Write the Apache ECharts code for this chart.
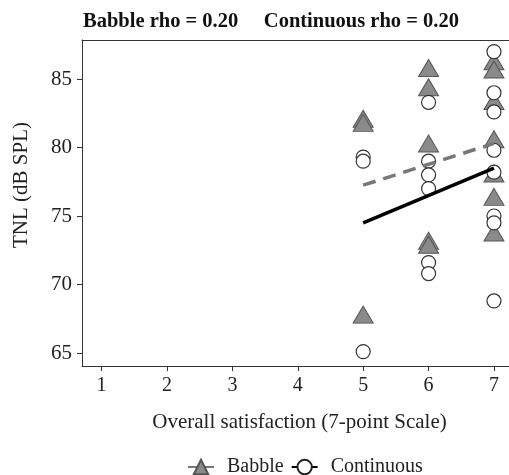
<!DOCTYPE html>
<html lang="en">

<head>
  <meta charset="UTF-8">
  <title>TNL vs satisfaction</title>
  <style>
    html, body {
      margin: 0;
      padding: 0;
      background: #fff;
    }

    #chart {
      width: 509px;
      height: 475px;
    }
  </style>
</head>

<body>
  <div id="chart"></div>
</body>
<script src="https://cdn.jsdelivr.net/npm/echarts@6/dist/echarts.min.js"></script>
<script>
  // satisfaction ratings (x) and TNL values (y)
  var babbleX = [5, 5, 5, 6, 6, 6, 6, 6, 7, 7, 7, 7, 7, 7, 7]
  var babbleY = [82.1, 81.8, 67.8, 85.8, 84.4, 80.3, 73.2, 72.9, 86.3, 85.7, 83.4, 80.6, 78.1, 76.4, 73.8]
  var contX = [5, 5, 5, 6, 6, 6, 6, 6, 6, 7, 7, 7, 7, 7, 7, 7, 7]
  var contY = [79.3, 79.0, 65.1, 83.3, 79.0, 78.0, 77.0, 71.6, 70.8, 87.0, 84.0, 82.6, 79.8, 78.2, 75.0, 74.5, 68.8]
  // fitted lines, end points at x = 5 and x = 7
  var fitX = [5, 7]
  var babbleFit = [77.25, 80.3]
  var contFit = [74.5, 78.5]
  var xTicks = [1, 2, 3, 4, 5, 6, 7]
  var yTicks = [65, 70, 75, 80, 85]
  var titleText = 'Babble rho = 0.20     Continuous rho = 0.20'

  function pairs(xs, ys) {
    var out = []
    for (var i = 0; i < xs.length; i++) {
      out.push([xs[i], ys[i]])
    }
    return out
  }

  var font = 'Liberation Serif'
  var axisColor = '#333'

  var myChart = echarts.init(document.getElementById('chart'))
  var option = {
    animation: false,
    title: {
      text: titleText,
      left: 78,
      top: 6,
      textStyle: { fontFamily: font, fontSize: 20.5, fontWeight: 'bold', color: '#111' },
    },
    // panel runs past the right edge of the picture, so no right border
    grid: {
      left: 82,
      top: 40,
      right: 0,
      bottom: 109,
    },
    legend: {
      top: 452,
      left: 182,
      itemWidth: 26,
      itemHeight: 18,
      itemGap: 7,
      textStyle: { fontFamily: font, fontSize: 20, color: '#222', padding: [0, 0, 0, 8] },
      data: [
        { name: 'Babble', lineStyle: { type: 'solid' } },
        { name: 'Continuous' },
      ],
    },
    xAxis: [
      {
        type: 'value',
        min: 0.7,
        max: 7.23,
        name: 'Overall satisfaction (7-point Scale)',
        nameLocation: 'middle',
        nameGap: 46,
        nameTextStyle: { fontFamily: font, fontSize: 21, color: '#222', padding: [0, 0, 0, 8] },
        splitLine: { show: false },
        axisLine: { show: true, lineStyle: { color: axisColor } },
        axisTick: { show: true, length: 5, customValues: xTicks, lineStyle: { color: axisColor } },
        axisLabel: { customValues: xTicks, margin: 10, fontFamily: font, fontSize: 20, color: '#222' },
      },
      {
        // top edge of the panel box
        type: 'value',
        position: 'top',
        min: 0.7,
        max: 7.23,
        splitLine: { show: false },
        axisLine: { show: true, lineStyle: { color: axisColor } },
        axisTick: { show: false },
        axisLabel: { show: false },
      },
    ],
    yAxis: {
      type: 'value',
      min: 64.05,
      max: 87.85,
      name: 'TNL (dB SPL)',
      nameLocation: 'middle',
      nameGap: 50,
      nameTextStyle: { fontFamily: font, fontSize: 21, color: '#222', padding: [0, 0, 0, 36] },
      splitLine: { show: false },
      axisLine: { show: true, lineStyle: { color: axisColor } },
      axisTick: { show: true, length: 5, customValues: yTicks, lineStyle: { color: axisColor } },
      axisLabel: { customValues: yTicks, margin: 10, fontFamily: font, fontSize: 21, color: '#222' },
    },
    series: [
      {
        name: 'Babble',
        type: 'line',
        z: 4,
        data: pairs(fitX, babbleFit),
        symbol: 'triangle',
        showSymbol: false,
        itemStyle: { color: '#8a8a8a', borderColor: '#555', borderWidth: 1 },
        lineStyle: { color: '#777', width: 3.5, type: [13, 8] },
      },
      {
        name: 'Continuous',
        type: 'line',
        z: 4,
        data: pairs(fitX, contFit),
        symbol: 'circle',
        showSymbol: false,
        itemStyle: { color: '#fff', borderColor: '#222', borderWidth: 1.5 },
        lineStyle: { color: '#000', width: 3.5 },
      },
      {
        name: 'Babble',
        type: 'scatter',
        z: 2,
        symbol: 'triangle',
        symbolSize: [20, 17],
        data: pairs(babbleX, babbleY),
        itemStyle: { color: '#8a8a8a', borderColor: '#555', borderWidth: 1, opacity: 1 },
      },
      {
        name: 'Continuous',
        type: 'scatter',
        z: 3,
        symbol: 'circle',
        symbolSize: 14,
        data: pairs(contX, contY),
        itemStyle: { color: '#fff', borderColor: '#333', borderWidth: 1.2, opacity: 1 },
      },
    ],
  }
  myChart.setOption(option)
</script>

</html>
